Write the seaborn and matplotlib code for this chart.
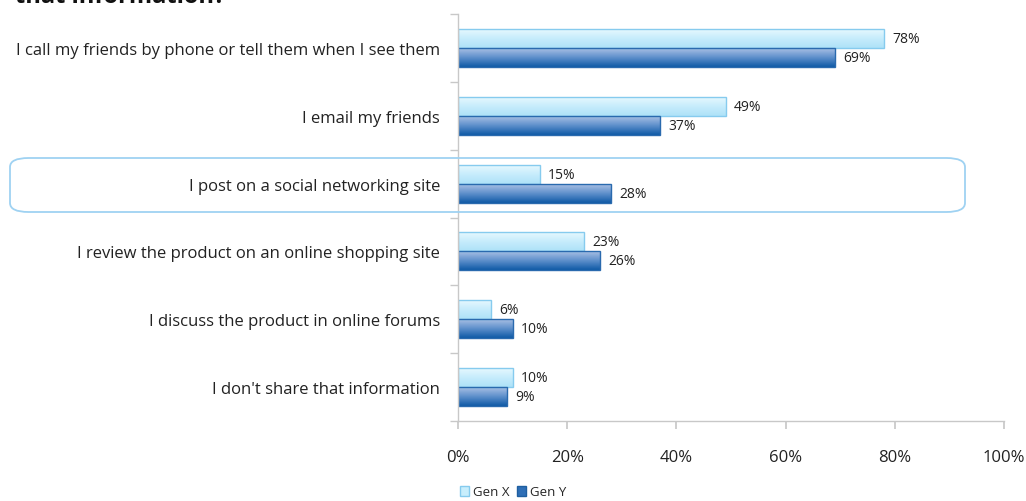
import numpy as np
import pandas as pd
import matplotlib
matplotlib.use("Agg")
import matplotlib.pyplot as plt
import seaborn as sns
from matplotlib.patches import FancyBboxPatch, Patch
from matplotlib.colors import LinearSegmentedColormap
from matplotlib.ticker import FixedLocator

categories = [
    "I call my friends by phone or tell them when I see them",
    "I email my friends",
    "I post on a social networking site",
    "I review the product on an online shopping site",
    "I discuss the product in online forums",
    "I don't share that information",
]
gen_x = [78, 49, 15, 23, 6, 10]
gen_y = [69, 37, 28, 26, 10, 9]
series = ["Gen X", "Gen Y"]
xticks = [0, 20, 40, 60, 80, 100]
title = "that information?"

df = pd.DataFrame({
    "category": categories * 2,
    "value": gen_x + gen_y,
    "gen": ["Gen X"] * len(categories) + ["Gen Y"] * len(categories),
})

sns.set_theme(style="white")
plt.rcParams["font.family"] = ["Open Sans", "DejaVu Sans"]

fig = plt.figure(figsize=(10.26, 5.02), dpi=100)
ax = fig.add_axes([458 / 1026, 1 - 422 / 502, (1004 - 458) / 1026, (422 - 15) / 502])

face = {"Gen X": "#c8eefc", "Gen Y": "#3f7cc0"}
edge = {"Gen X": "#86cbee", "Gen Y": "#2a6aae"}
sns.barplot(data=df, y="category", x="value", hue="gen", hue_order=series,
            order=categories, orient="h", palette=face, width=0.56,
            ax=ax, legend=False, saturation=1)

cmaps = {
    "Gen X": LinearSegmentedColormap.from_list("gx", ["#e6f8fe", "#c6ecfc", "#aee2f8"]),
    "Gen Y": LinearSegmentedColormap.from_list("gy", ["#a9c0e4", "#5d8fcb", "#0f5aa6"]),
}
grad = np.linspace(0, 1, 64).reshape(-1, 1)
for container, name in zip(ax.containers, series):
    for bar in container:
        bar.set_edgecolor(edge[name])
        bar.set_linewidth(1.0)
        x0, y0 = bar.get_x(), bar.get_y()
        w, h = bar.get_width(), bar.get_height()
        im = ax.imshow(grad, cmap=cmaps[name], aspect="auto",
                       extent=[x0, x0 + w, y0 + h, y0], zorder=bar.get_zorder() + 0.1,
                       interpolation="bicubic")
        im.set_clip_path(bar)
        bar.set_zorder(bar.get_zorder() + 0.2)
        bar.set_facecolor("none")
    labels = [f"{v:.0f}%" for v in container.datavalues]
    ax.bar_label(container, labels=labels, padding=6, fontsize=10, color="#222222")

ax.set_xlim(0, 100)
ax.set_ylim(len(categories) - 0.5, -0.5)
ax.set_xticks(xticks)
ax.set_xticklabels([f"{t}%" for t in xticks], fontsize=12, color="#222222")
ax.tick_params(axis="x", length=6, color="#c8c8c8", pad=14, direction="out", bottom=True)
ax.set_yticks(range(len(categories)))
ax.set_yticklabels(categories, fontsize=12, color="#222222")
ax.tick_params(axis="y", length=0, pad=13)
ax.yaxis.set_minor_locator(FixedLocator(np.arange(-0.5, len(categories), 1.0)))
ax.tick_params(axis="y", which="minor", length=6, color="#c8c8c8", left=True)
ax.set_xlabel("")
ax.set_ylabel("")
for s in ["top", "right"]:
    ax.spines[s].set_visible(False)
for s in ["left", "bottom"]:
    ax.spines[s].set_color("#c8c8c8")
    ax.spines[s].set_linewidth(1)

# highlight box around row 3
hl = FancyBboxPatch((10 / 1026, 1 - 213 / 502), (965 - 10) / 1026, (213 - 159) / 502,
                    boxstyle="round,pad=0,rounding_size=0.018", transform=fig.transFigure,
                    facecolor="none", edgecolor="#9fd2f2", linewidth=1.3, zorder=10)
fig.patches.append(hl)

fig.text(15 / 1026, 1 - 3 / 502, title, fontsize=17, fontweight="bold", va="baseline",
         ha="left", color="#111111")

handles = [Patch(facecolor="#c8eefc", edgecolor="#86cbee"),
           Patch(facecolor="#2f6fb6", edgecolor="#1f5fa0")]
fig.legend(handles, series, loc="center", bbox_to_anchor=(513 / 1026, 1 - 493 / 502),
           ncol=2, frameon=False, fontsize=9.5, handlelength=0.7, handleheight=0.7,
           handletextpad=0.25, columnspacing=0.6)

fig.savefig("out.png", dpi=100)
